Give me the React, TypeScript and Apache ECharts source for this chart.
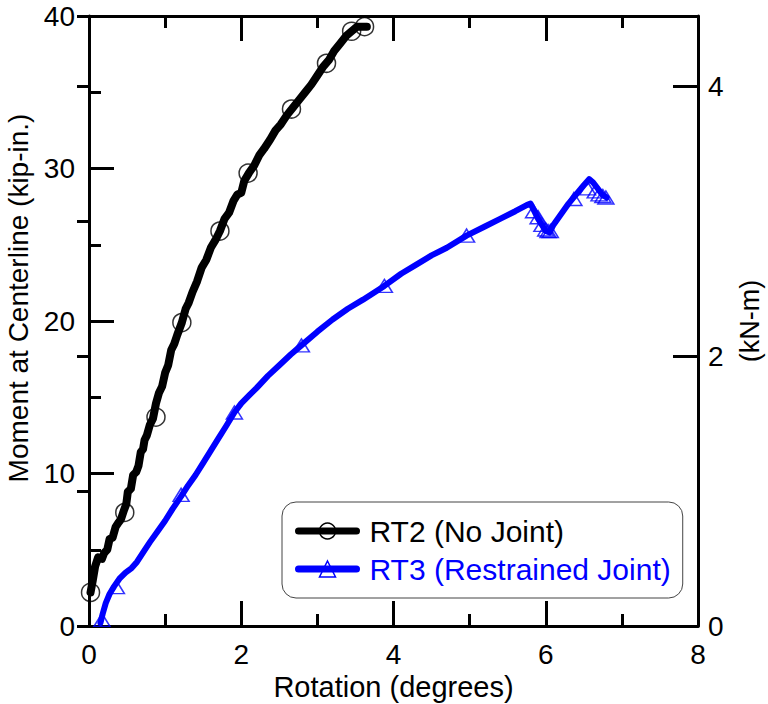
import React, { useEffect, useRef } from "react";
import * as echarts from "echarts";

const FONT = "'Liberation Sans', Arial, sans-serif";
const KIP_IN_TO_KN_M = 0.112985;

const X_MIN = 0;
const X_MAX = 8;
const Y_MIN = 0;
const Y_MAX = 40;

const SERIES_NAMES = ["RT2 (No Joint)", "RT3 (Restrained Joint)"];
const AXIS_TITLES = ["Rotation (degrees)", "Moment at Centerline (kip-in.)", "(kN-m)"];

// RT2 (No Joint): rotation (deg), moment (kip-in.)
const rt2Line: [number, number][] = [
  [0.02, 2.2], [0.05, 3.0], [0.08, 3.9], [0.12, 4.5], [0.17, 4.4], [0.2, 4.8], [0.24, 5.0],
  [0.27, 5.7], [0.31, 5.8], [0.35, 6.5], [0.39, 6.8], [0.42, 7.0], [0.46, 7.6], [0.49, 8.0],
  [0.51, 8.8], [0.55, 9.0], [0.58, 9.9], [0.62, 10.1], [0.65, 10.5], [0.68, 11.4], [0.71, 11.6],
  [0.73, 12.2], [0.76, 12.5], [0.8, 13.2], [0.84, 13.6], [0.88, 14.6], [0.92, 15.3], [0.96, 15.7],
  [1.0, 16.6], [1.04, 17.1], [1.08, 18.1], [1.12, 18.5], [1.16, 19.1], [1.22, 19.9], [1.27, 20.8],
  [1.31, 21.2], [1.36, 21.9], [1.42, 22.6], [1.48, 23.5], [1.54, 24.0], [1.6, 24.8], [1.66, 25.3],
  [1.72, 25.9], [1.78, 26.7], [1.84, 27.1], [1.9, 27.9], [1.95, 28.3], [2.0, 28.4], [2.04, 29.2],
  [2.1, 29.7], [2.17, 30.2], [2.24, 30.9], [2.3, 31.3], [2.38, 31.9], [2.45, 32.5], [2.52, 32.9],
  [2.6, 33.5], [2.68, 34.0], [2.76, 34.5], [2.84, 35.0], [2.92, 35.5], [3.0, 36.1], [3.08, 36.7],
  [3.15, 37.1], [3.22, 37.7], [3.3, 38.2], [3.38, 38.7], [3.45, 39.0], [3.52, 39.3], [3.6, 39.3],
  [3.65, 39.3],
];
const rt2Markers: [number, number][] = [
  [0.02, 2.2], [0.47, 7.45], [0.88, 13.7], [1.22, 19.9], [1.72, 25.9], [2.09, 29.7],
  [2.66, 33.9], [3.12, 36.9], [3.45, 39.0], [3.62, 39.3],
];

// RT3 (Restrained Joint)
const rt3Line: [number, number][] = [
  [0.15, 0.2], [0.18, 0.8], [0.22, 1.5], [0.27, 2.1], [0.33, 2.6], [0.4, 3.1], [0.48, 3.5],
  [0.56, 3.8], [0.63, 4.2], [0.72, 4.9], [0.8, 5.5], [0.9, 6.2], [1.0, 6.9], [1.1, 7.7],
  [1.21, 8.5], [1.3, 9.2], [1.4, 9.9], [1.5, 10.7], [1.6, 11.5], [1.7, 12.3], [1.8, 13.1],
  [1.91, 14.0], [2.0, 14.6], [2.1, 15.1], [2.2, 15.6], [2.35, 16.4], [2.5, 17.1], [2.65, 17.8],
  [2.79, 18.4], [3.0, 19.3], [3.2, 20.1], [3.4, 20.8], [3.6, 21.4], [3.88, 22.3], [4.1, 23.1],
  [4.3, 23.7], [4.5, 24.3], [4.7, 24.8], [4.96, 25.6], [5.2, 26.2], [5.4, 26.7], [5.6, 27.2],
  [5.75, 27.6], [5.8, 27.7], [5.85, 27.2], [5.9, 26.7], [5.95, 26.3], [6.0, 25.9], [6.05, 25.8],
  [6.1, 26.3], [6.2, 27.0], [6.3, 27.7], [6.4, 28.3], [6.5, 28.9], [6.57, 29.3], [6.62, 29.1],
  [6.68, 28.7], [6.74, 28.3], [6.8, 28.1],
];
const rt3Markers: [number, number][] = [
  [0.17, 0.4], [0.36, 2.55], [1.21, 8.6], [1.91, 14.0], [2.79, 18.4], [3.88, 22.3], [4.96, 25.6],
  [5.84, 27.2], [5.9, 26.8], [5.95, 26.3], [6.0, 26.0], [6.03, 25.9], [6.06, 25.9], [6.37, 28.0],
  [6.55, 28.7], [6.65, 28.5], [6.7, 28.3], [6.75, 28.2], [6.79, 28.1],
];

const BLACK = "#000000";
const BLUE = "#0000ff";

export default function App() {
  const ref = useRef<HTMLDivElement>(null);

  useEffect(() => {
    const chart = echarts.init(ref.current!, null, { renderer: "svg" });
    const tickStyle = { color: BLACK, width: 3 };
    const axisLine = { show: true, onZero: false, lineStyle: { color: BLACK, width: 3 } };
    const labelStyle = { color: BLACK, fontSize: 28, fontFamily: FONT };
    const nameStyle = { color: BLACK, fontSize: 28, fontFamily: FONT };
    const kNmMax = Y_MAX * KIP_IN_TO_KN_M;
    const gridBox = { left: 89, right: 70, top: 16, bottom: 78, containLabel: false, outerBoundsMode: "none" };

    chart.setOption({
      animation: false,
      backgroundColor: "#ffffff",
      grid: [gridBox, { ...gridBox }],
      xAxis: [
        {
          type: "value", gridIndex: 0, min: X_MIN, max: X_MAX, interval: 2, position: "bottom",
          axisLine, splitLine: { show: false },
          axisTick: { inside: true, length: 25, lineStyle: tickStyle },
          minorTick: { show: true, splitNumber: 2, length: 12, lineStyle: tickStyle },
          axisLabel: { ...labelStyle, margin: 14 },
          name: AXIS_TITLES[0], nameLocation: "middle", nameGap: 30,
          nameTextStyle: { ...nameStyle, fontSize: 29 },
        },
        {
          type: "value", gridIndex: 0, min: X_MIN, max: X_MAX, interval: 2, position: "top",
          axisLine, splitLine: { show: false },
          axisTick: { inside: true, length: 25, lineStyle: tickStyle },
          minorTick: { show: true, splitNumber: 2, length: 12, lineStyle: tickStyle },
          axisLabel: { show: false },
        },
        {
          type: "value", gridIndex: 1, min: X_MIN, max: X_MAX, show: false,
        },
      ],
      yAxis: [
        {
          type: "value", gridIndex: 0, min: Y_MIN, max: Y_MAX, interval: 10, position: "left",
          axisLine, splitLine: { show: false },
          axisTick: { inside: true, length: 25, lineStyle: tickStyle },
          minorTick: { show: true, splitNumber: 2, length: 12, lineStyle: tickStyle },
          axisLabel: { ...labelStyle, margin: 14 },
          name: AXIS_TITLES[1], nameLocation: "middle", nameGap: 52, nameRotate: 90,
          nameTextStyle: { ...nameStyle, padding: [0, 0, 0, 46] },
        },
        {
          type: "value", gridIndex: 0, min: 0, max: kNmMax, interval: 2, position: "right",
          axisLine, splitLine: { show: false },
          axisTick: { inside: true, length: 25, lineStyle: tickStyle },
          axisLabel: {
            ...labelStyle, margin: 10, showMaxLabel: false,
            formatter: (v: number) => (Math.abs(v - Math.round(v)) < 1e-6 ? String(Math.round(v)) : ""),
          },
          name: AXIS_TITLES[2], nameLocation: "middle", nameGap: 38, nameRotate: 90,
          nameTextStyle: { ...nameStyle, fontSize: 27 },
        },
        {
          type: "value", gridIndex: 1, min: 0, max: kNmMax, interval: 1, position: "right",
          axisLine: { show: false }, splitLine: { show: false },
          axisTick: { inside: true, length: 12, lineStyle: tickStyle },
          axisLabel: { show: false },
        },
      ],
      legend: {
        orient: "vertical", left: 282, top: 502,
        data: [
          {
            name: SERIES_NAMES[0], textStyle: { color: BLACK },
            itemStyle: { color: "rgba(0,0,0,0)", borderColor: BLACK, borderWidth: 1.5 },
            lineStyle: { color: BLACK, width: 7 },
          },
          {
            name: SERIES_NAMES[1], textStyle: { color: BLUE },
            itemStyle: { color: "rgba(0,0,0,0)", borderColor: BLUE, borderWidth: 1.5 },
            lineStyle: { color: BLUE, width: 7 },
          },
        ],
        itemWidth: 58, itemHeight: 20, itemGap: 8,
        padding: [14, 12, 14, 13],
        borderColor: "#444", borderWidth: 1, borderRadius: 14,
        backgroundColor: "#ffffff",
        textStyle: { fontSize: 30, fontFamily: FONT, padding: [0, 0, 0, 8] },
        selectedMode: false,
      },
      series: [
        {
          name: SERIES_NAMES[0], type: "line", xAxisIndex: 0, yAxisIndex: 0,
          data: rt2Line, showSymbol: false, symbol: "circle",
          lineStyle: { color: BLACK, width: 8, join: "round", cap: "round" },
          itemStyle: { color: BLACK }, z: 3,
        },
        {
          name: "rt2-markers", type: "scatter", xAxisIndex: 0, yAxisIndex: 0,
          data: rt2Markers, symbol: "circle", symbolSize: 18,
          itemStyle: { color: "rgba(0,0,0,0)", borderColor: BLACK, borderWidth: 1.5 }, z: 4,
        },
        {
          name: SERIES_NAMES[1], type: "line", xAxisIndex: 0, yAxisIndex: 0,
          data: rt3Line, showSymbol: false, symbol: "triangle",
          lineStyle: { color: BLUE, width: 6, join: "round", cap: "round" },
          itemStyle: { color: BLUE }, z: 3,
        },
        {
          name: "rt3-markers", type: "scatter", xAxisIndex: 0, yAxisIndex: 0,
          data: rt3Markers, symbol: "triangle", symbolSize: [16, 13],
          itemStyle: { color: "rgba(0,0,0,0)", borderColor: BLUE, borderWidth: 1.5 }, z: 4,
        },
      ],
    });
    return () => chart.dispose();
  }, []);

  return (
    <div
      ref={ref}
      style={{ position: "fixed", left: 0, top: 0, width: 768, height: 704, background: "#fff" }}
    />
  );
}
